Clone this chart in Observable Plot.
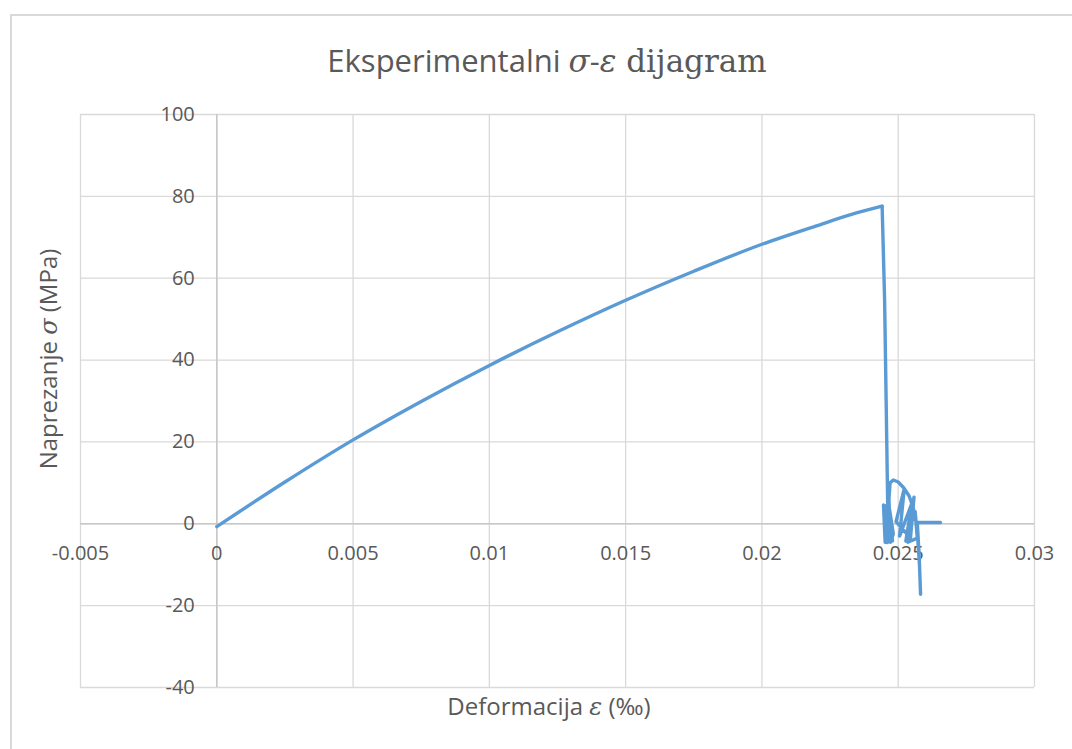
<!DOCTYPE html>
<html>
<head>
<meta charset="utf-8">
<script src="https://cdn.jsdelivr.net/npm/d3@7"></script>
<script src="https://cdn.jsdelivr.net/npm/@observablehq/plot@0.6"></script>
<style>
  html, body { margin: 0; padding: 0; background: #fff; overflow: hidden; }
  #wrap { position: relative; width: 1072px; height: 749px; overflow: hidden; background: #fff; }
  #border { position: absolute; left: 10px; top: 14px; width: 1080px; height: 760px; border: 2px solid #d9d9d9; box-sizing: border-box; }
  #title { position: absolute; left: 0; width: 1094px; top: 38px; text-align: center; font-family: "Open Sans", sans-serif; font-size: 31px; color: #595959; white-space: nowrap; line-height: 44px; }
  .m { font-family: "DejaVu Serif", serif; font-style: italic; }
  .s { font-family: "DejaVu Serif", serif; }
  #chart { position: absolute; left: 0; top: 90px; }
  #xlabel { position: absolute; left: 0; width: 1098px; top: 690px; text-align: center; font-family: "Open Sans", sans-serif; font-size: 24px; color: #595959; white-space: nowrap; line-height: 32px; }
  #ylabel { position: absolute; left: 48px; top: 359px; transform: translate(-50%, -50%) rotate(-90deg); font-family: "Open Sans", sans-serif; font-size: 24px; color: #595959; white-space: nowrap; line-height: 32px; }
</style>
</head>
<body>
<div id="wrap">
  <div id="border"></div>
  <div id="title">Eksperimentalni <span class="m">σ</span>-<span class="m">ε</span><span class="s"> dijagram</span></div>
  <div id="chart"></div>
  <div id="ylabel">Naprezanje <span class="m">σ</span> (MPa)</div>
  <div id="xlabel">Deformacija <span class="m">ε</span> (‰)</div>
</div>
<script>
// Loading branch (strain, stress)
const strainMain = [0, 0.0025, 0.005, 0.0075, 0.01, 0.0125, 0.015, 0.0175, 0.02, 0.022, 0.0235, 0.02441];
const stressMain = [-0.7, 10.2, 20.5, 29.9, 38.7, 46.9, 54.6, 61.7, 68.3, 72.8, 76.0, 77.6];
// Post-failure branch
const strainTail = [0.02441, 0.02450, 0.02458, 0.02462, 0.02452, 0.02446, 0.02456, 0.02449, 0.02460, 0.02451, 0.02466, 0.02455, 0.02469, 0.02458, 0.02472, 0.02461, 0.02476, 0.02464, 0.02479, 0.02468, 0.02482, 0.02472, 0.02466, 0.02470, 0.02482, 0.02500, 0.02520, 0.02540, 0.02555, 0.02565, 0.02570, 0.02535, 0.02558, 0.02545, 0.02492, 0.02522, 0.02505, 0.02550, 0.02528, 0.02562, 0.02572, 0.02578, 0.02582, 0.02577, 0.02570, 0.02655];
const stressTail = [77.6, 55, 20, 2, -4.5, 4.6, -4.3, 4.0, -4.6, 3.5, -4.0, 4.4, -3.8, 3.0, -4.5, 4.2, -3.5, 2.8, -4.2, 3.6, -2.5, -4.4, 6.0, 10.0, 10.7, 10.2, 8.8, 6.8, 4.0, 0.5, -3.5, -4.5, 6.5, -3.5, 0.5, 8.5, -3.0, 5.0, -4.2, 3.0, -4.0, -10.0, -17.2, -8.0, 0.3, 0.3];

const xTicks = [-0.005, 0, 0.005, 0.01, 0.015, 0.02, 0.025, 0.03];
const xTickLabels = ["-0.005", "0", "0.005", "0.01", "0.015", "0.02", "0.025", "0.03"];
const yTicks = [-40, -20, 0, 20, 40, 60, 80, 100];
const yTickLabels = ["-40", "-20", "0", "20", "40", "60", "80", "100"];

const mainData = strainMain.map((x, i) => ({x, y: stressMain[i]}));
const tailData = strainTail.map((x, i) => ({x, y: stressTail[i]}));
const xt = xTicks.map((v, i) => ({v, t: xTickLabels[i]}));
const yt = yTicks.map((v, i) => ({v, t: yTickLabels[i]}));

const chart = Plot.plot({
  width: 1072,
  height: 659,
  marginLeft: 80,
  marginRight: 38,
  marginTop: 24,
  marginBottom: 62,
  style: {background: "transparent", fontFamily: "Open Sans, sans-serif", overflow: "visible"},
  x: {domain: [-0.005, 0.03], axis: null},
  y: {domain: [-40, 100], axis: null},
  marks: [
    Plot.ruleX(xTicks, {stroke: "#d9d9d9", strokeWidth: 1.3, strokeOpacity: 1}),
    Plot.ruleY(yTicks, {stroke: "#d9d9d9", strokeWidth: 1.3, strokeOpacity: 1}),
    Plot.ruleX([0], {stroke: "#c8c8c8", strokeWidth: 1.5, strokeOpacity: 1}),
    Plot.ruleY([0], {stroke: "#c8c8c8", strokeWidth: 1.5, strokeOpacity: 1}),
    Plot.text(xt, {x: "v", y: () => 0, text: "t", dy: 30, fill: "#595959", fontSize: 20, textAnchor: "middle"}),
    Plot.text(yt, {x: () => 0, y: "v", text: "t", dx: -22, fill: "#595959", fontSize: 20, textAnchor: "end"}),
    Plot.line(mainData, {x: "x", y: "y", stroke: "#5b9bd5", strokeWidth: 3.4, curve: "monotone-x"}),
    Plot.line(tailData, {x: "x", y: "y", stroke: "#5b9bd5", strokeWidth: 3.4, curve: "linear", strokeLinejoin: "round"})
  ]
});
document.getElementById("chart").appendChild(chart);
</script>
</body>
</html>
